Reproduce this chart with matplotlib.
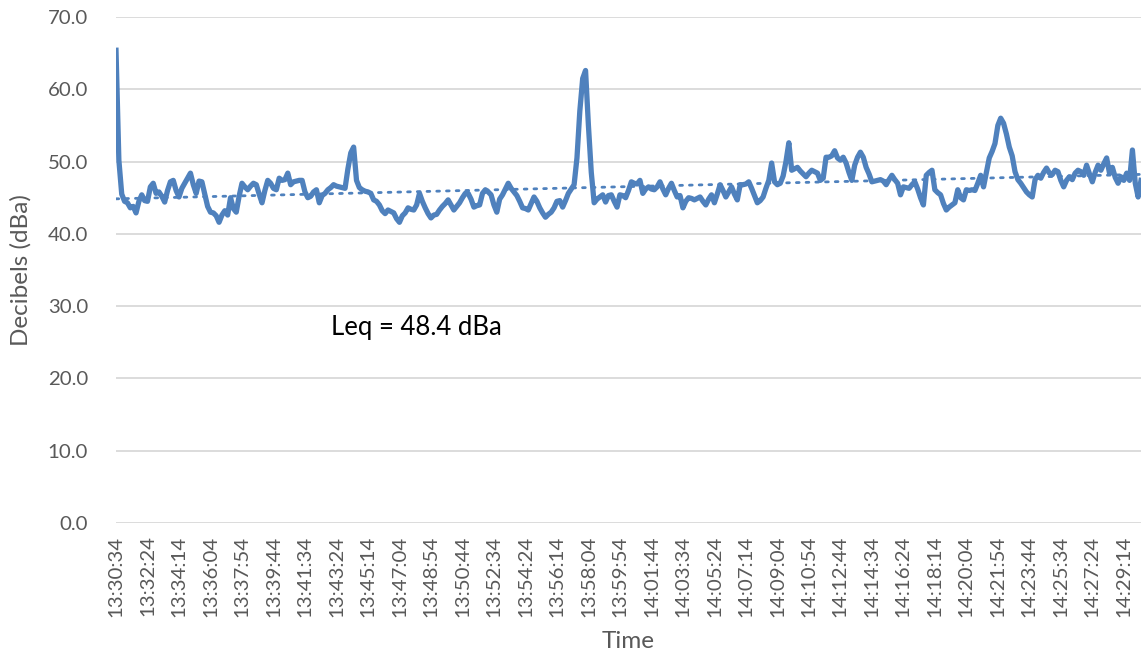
import numpy as np
import pandas as pd
import matplotlib
matplotlib.use("Agg")
import matplotlib.pyplot as plt

# sound level readings, 10 s apart, starting 13:30:34
start_time = "2018-01-01 13:30:34"
step_seconds = 10
levels = [
    65.4, 50.2, 45.5, 44.5, 44.3, 43.6, 43.8, 42.9, 44.5, 45.4, 44.6,
    44.5, 46.5, 47.0, 45.6, 45.8, 45.2, 44.4, 46.0, 47.2, 47.4, 46.0,
    45.1, 46.3, 47.0, 47.7, 48.4, 46.8, 45.6, 47.3, 47.2, 45.5, 43.8,
    43.0, 42.9, 42.5, 41.6, 42.6, 43.2, 42.6, 45.0, 43.5, 43.0, 45.2,
    47.0, 46.5, 46.1, 46.6, 47.0, 46.8, 45.5, 44.3, 46.0, 47.4, 47.0,
    46.3, 46.1, 47.7, 47.4, 47.5, 48.4, 46.8, 47.2, 47.3, 47.4, 47.4,
    45.8, 45.0, 45.2, 45.8, 46.1, 44.3, 45.3, 45.6, 46.1, 46.4, 46.8,
    46.6, 46.5, 46.4, 46.3, 49.0, 51.2, 52.0, 47.4, 46.4, 46.1, 45.9,
    45.8, 45.6, 44.7, 44.5, 44.0, 43.2, 42.8, 43.3, 43.1, 42.9, 42.1,
    41.6, 42.5, 42.9, 43.6, 43.4, 43.3, 44.0, 45.6, 44.5, 43.6, 42.8,
    42.2, 42.6, 42.7, 43.3, 43.8, 44.2, 44.7, 44.0, 43.3, 43.8, 44.3,
    45.0, 45.6, 45.6, 44.8, 43.7, 43.9, 44.0, 45.6, 46.1, 45.8, 45.4,
    44.0, 43.0, 44.8, 45.4, 46.2, 47.0, 46.3, 45.8, 45.3, 44.5, 43.6,
    43.5, 43.3, 44.2, 45.1, 44.5, 43.6, 42.9, 42.3, 42.7, 43.0, 43.6,
    44.5, 44.6, 43.7, 44.6, 45.6, 46.2, 46.8, 50.5, 57.0, 61.5, 62.6,
    55.0, 48.5, 44.3, 44.8, 45.1, 45.4, 44.4, 45.3, 45.4, 44.5, 43.7,
    45.4, 45.3, 45.0, 46.0, 47.2, 47.0, 46.9, 47.4, 45.6, 46.2, 46.5,
    46.2, 46.1, 46.5, 47.2, 46.2, 45.4, 46.3, 47.0, 46.0, 45.1, 45.3,
    43.6, 44.5, 45.0, 44.9, 44.7, 44.9, 45.1, 44.5, 44.0, 44.8, 45.4,
    44.3, 45.5, 46.8, 46.0, 45.1, 45.8, 46.5, 45.5, 44.7, 46.8, 46.8,
    46.9, 47.2, 46.3, 45.3, 44.3, 44.6, 45.1, 46.3, 47.4, 49.8, 47.2,
    46.8, 47.0, 48.0, 50.0, 52.6, 48.8, 49.0, 49.2, 48.7, 48.3, 47.9,
    48.4, 48.8, 48.6, 48.4, 47.4, 47.7, 50.6, 50.6, 50.8, 51.5, 50.5,
    50.2, 50.6, 49.8, 48.5, 47.4, 49.5, 50.6, 51.3, 50.6, 49.2, 48.3,
    47.2, 47.3, 47.4, 47.5, 47.3, 46.8, 47.5, 48.1, 47.5, 47.0, 45.4,
    46.5, 46.4, 46.3, 46.8, 47.2, 46.2, 45.0, 44.0, 48.1, 48.5, 48.8,
    46.1, 45.7, 45.4, 44.2, 43.3, 43.7, 44.0, 44.3, 46.1, 45.0, 44.7,
    46.1, 46.0, 46.1, 46.0, 47.0, 48.1, 46.5, 48.5, 50.5, 51.4, 52.5,
    55.0, 56.0, 55.3, 53.8, 52.0, 50.8, 48.6, 47.5, 47.0, 46.4, 45.8,
    45.4, 45.1, 47.5, 48.1, 47.7, 48.5, 49.1, 48.4, 48.2, 48.8, 48.6,
    47.4, 46.5, 47.4, 47.9, 47.5, 48.4, 48.8, 48.6, 48.1, 49.5, 48.3,
    47.2, 48.5, 49.5, 48.8, 49.7, 50.5, 48.4, 49.2, 47.8, 47.0, 47.9,
    47.4, 48.4, 47.4, 51.6, 47.0, 45.1, 47.4,
]
leq_label = "Leq = 48.4 dBa"
yticks = [0, 10, 20, 30, 40, 50, 60, 70]

blue = "#4F81BD"
grey = "#595959"

def main():
    plt.rcParams['font.family'] = ['Lato', 'DejaVu Sans']
    times = pd.date_range(start_time, periods=len(levels), freq="%ds" % step_seconds)
    labels = times.strftime("%H:%M:%S")
    x = np.arange(len(levels))
    y = np.array(levels)

    fig = plt.figure(figsize=(11.41, 6.54), dpi=100)
    ax = fig.add_axes([116/1141, 1-523/654, 1-116/1141, (523-17)/654])

    for v in yticks:
        ax.axhline(v, color="#D9D9D9", linewidth=1.3, zorder=0)

    ax.plot(x, y, color=blue, linewidth=3.8, solid_joinstyle="round", zorder=3)

    # linear trend line
    k, b = np.polyfit(x, y, 1)
    ax.plot(x, k*x+b, color=blue, linewidth=2.0, linestyle=(0, (1, 2.5)),
            dash_capstyle="round", zorder=2)

    ax.text(75, 27.0, leq_label, fontsize=18.5, color="black", ha="left", va="center")

    ax.set_xlim(0, len(levels)-1)
    ax.set_ylim(0, 70)
    ax.set_yticks(yticks)
    ax.set_yticklabels(["%.1f" % v for v in yticks])
    ticks = x[::11]
    ax.set_xticks(ticks)
    ax.set_xticklabels(labels[::11], rotation=90)
    ax.tick_params(length=0, labelsize=14.7, labelcolor=grey)
    ax.tick_params(axis="y", pad=20)
    ax.tick_params(axis="x", pad=9)
    for s in ax.spines.values():
        s.set_visible(False)

    ax.set_ylabel("Decibels (dBa)", fontsize=17.5, color=grey, labelpad=12)
    ax.set_xlabel("Time", fontsize=17.5, color=grey, labelpad=10)

    fig.savefig("out.png", dpi=100)

if __name__ == '__main__':
    main()
